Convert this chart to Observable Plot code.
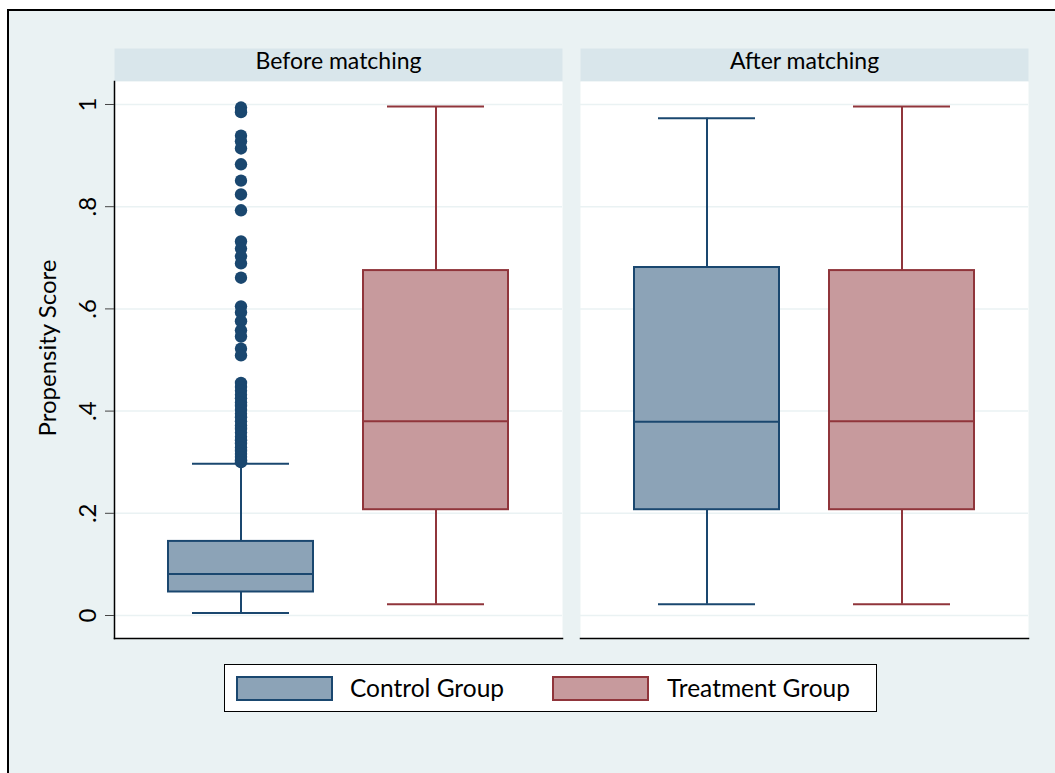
<!DOCTYPE html>
<html>
<head>
<meta charset="utf-8">
<script src="https://cdn.jsdelivr.net/npm/d3@7"></script>
<script src="https://cdn.jsdelivr.net/npm/@observablehq/plot@0.6"></script>
<style>
  html, body { margin: 0; padding: 0; background: #ffffff; }
  body { width: 1055px; height: 773px; position: relative; overflow: hidden; font-family: Lato, "Liberation Sans", sans-serif; }
  #graph-bg { position: absolute; left: 7px; top: 9px; width: 1100px; height: 820px; background: #eaf2f3; border: 2px solid #000; box-sizing: border-box; }
  #chart { position: absolute; left: 0; top: 0; }
  #chart svg { background: transparent !important; overflow: visible; }
  #legend { position: absolute; left: 224px; top: 664px; width: 653px; height: 48px; background: #fff; border: 1px solid #000; box-sizing: border-box; }
  .swatch { position: absolute; top: 11px; width: 97px; height: 25px; box-sizing: border-box; border: 2px solid; }
  .lab { position: absolute; top: 0; line-height: 46px; font-size: 24.5px; color: #000; }
</style>
</head>
<body>
<div id="graph-bg"></div>
<div id="chart"></div>
<div id="legend"></div>
<script>
// Panels and groups
const panels = ["Before matching", "After matching"];
const groups = ["Control Group", "Treatment Group"];

// Box summaries, one entry per panel × group
const boxPanel = ["Before matching", "Before matching", "After matching", "After matching"];
const boxGroup = ["Control Group", "Treatment Group", "Control Group", "Treatment Group"];
const lowerWhisker = [0.005, 0.022, 0.022, 0.022];
const q1 = [0.046, 0.207, 0.207, 0.207];
const median = [0.081, 0.380, 0.379, 0.380];
const q3 = [0.145, 0.675, 0.681, 0.675];
const upperWhisker = [0.297, 0.996, 0.973, 0.996];

// Outlying propensity scores of the control group before matching
const controlOutliers = [
  0.994, 0.985, 0.939, 0.928, 0.914, 0.883, 0.851, 0.824, 0.793,
  0.732, 0.718, 0.703, 0.689, 0.661, 0.605, 0.593, 0.576, 0.558, 0.546,
  0.522, 0.509, 0.455, 0.447, 0.440, 0.432, 0.425, 0.417, 0.410, 0.402,
  0.395, 0.388, 0.380, 0.372, 0.365, 0.358, 0.350, 0.343, 0.336, 0.329,
  0.322, 0.316, 0.310, 0.304, 0.300
];

// Y axis ticks
const yTicks = [0, 0.2, 0.4, 0.6, 0.8, 1];
const yTickLabels = ["0", ".2", ".4", ".6", ".8", "1"];

const strokeOf = {"Control Group": "#1a476f", "Treatment Group": "#90353b"};
const fillOf = {"Control Group": "#8ca3b7", "Treatment Group": "#c79a9d"};

const boxes = boxPanel.map((p, i) => ({
  panel: p, group: boxGroup[i],
  lo: lowerWhisker[i], q1: q1[i], med: median[i], q3: q3[i], hi: upperWhisker[i]
}));
const outliers = controlOutliers.map(v => ({panel: panels[0], group: groups[0], value: v}));

const plotTop = 81, plotBottom = 638, H = 650;
const plotHeight = plotBottom - plotTop;
const capInset = 24;

const chart = Plot.plot({
  width: 1055,
  height: H,
  marginTop: plotTop,
  marginBottom: H - plotBottom,
  marginLeft: 113,
  marginRight: 26,
  style: {fontFamily: "Lato, 'Liberation Sans', sans-serif", background: "transparent", color: "#000"},
  fx: {domain: panels, paddingInner: 0.0385, paddingOuter: 0},
  x: {domain: groups, paddingInner: 0.255, paddingOuter: 0.273, axis: null},
  y: {domain: [-0.045, 1.045]},
  marks: [
    // panel header strips and white plotting regions
    Plot.frame({fill: "#d9e6eb", insetTop: -33, insetBottom: plotHeight}),
    Plot.frame({fill: "#ffffff"}),
    Plot.gridY(yTicks, {stroke: "#eaf2f3", strokeOpacity: 1, strokeWidth: 1.5}),
    Plot.frame({anchor: "bottom", stroke: "#000", strokeWidth: 1.5}),
    Plot.frame({anchor: "left", stroke: "#000", strokeWidth: 1.5, fx: [panels[0]]}),
    Plot.axisFx({anchor: "top", label: null, tickSize: 0, tickPadding: 13, fontSize: 23}),
    Plot.axisY(yTicks, {
      tickFormat: (d, i) => yTickLabels[i],
      tickSize: 9, tickPadding: 10, tickRotate: -90, fontSize: 24,
      stroke: "#444", label: null
    }),
    Plot.text(["Propensity Score"], {
      fx: [panels[0]], frameAnchor: "left", textAnchor: "middle",
      dx: -66, dy: -12, rotate: -90, fontSize: 24
    }),
    // whiskers
    Plot.ruleX(boxes, {fx: "panel", x: "group", y1: "q3", y2: "hi", stroke: d => strokeOf[d.group], strokeWidth: 2}),
    Plot.ruleX(boxes, {fx: "panel", x: "group", y1: "q1", y2: "lo", stroke: d => strokeOf[d.group], strokeWidth: 2}),
    Plot.tickY(boxes, {fx: "panel", x: "group", y: "hi", stroke: d => strokeOf[d.group], strokeWidth: 2, insetLeft: capInset, insetRight: capInset}),
    Plot.tickY(boxes, {fx: "panel", x: "group", y: "lo", stroke: d => strokeOf[d.group], strokeWidth: 2, insetLeft: capInset, insetRight: capInset}),
    // boxes
    Plot.barY(boxes, {fx: "panel", x: "group", y1: "q1", y2: "q3", fill: d => fillOf[d.group], stroke: d => strokeOf[d.group], strokeWidth: 2}),
    Plot.tickY(boxes, {fx: "panel", x: "group", y: "med", stroke: d => strokeOf[d.group], strokeWidth: 2}),
    // outliers
    Plot.dot(outliers, {fx: "panel", x: "group", y: "value", r: 6.2, fill: "#1a476f", stroke: "none"})
  ]
});
document.getElementById("chart").appendChild(chart);

// Legend
const legend = document.getElementById("legend");
const legendItems = [
  {group: groups[0], swatchLeft: 11, textLeft: 125},
  {group: groups[1], swatchLeft: 327, textLeft: 442}
];
legendItems.forEach(item => {
  const sw = document.createElement("div");
  sw.className = "swatch";
  sw.style.left = item.swatchLeft + "px";
  sw.style.background = fillOf[item.group];
  sw.style.borderColor = strokeOf[item.group];
  legend.appendChild(sw);
  const t = document.createElement("div");
  t.className = "lab";
  t.style.left = item.textLeft + "px";
  t.textContent = item.group;
  legend.appendChild(t);
});
</script>
</body>
</html>
